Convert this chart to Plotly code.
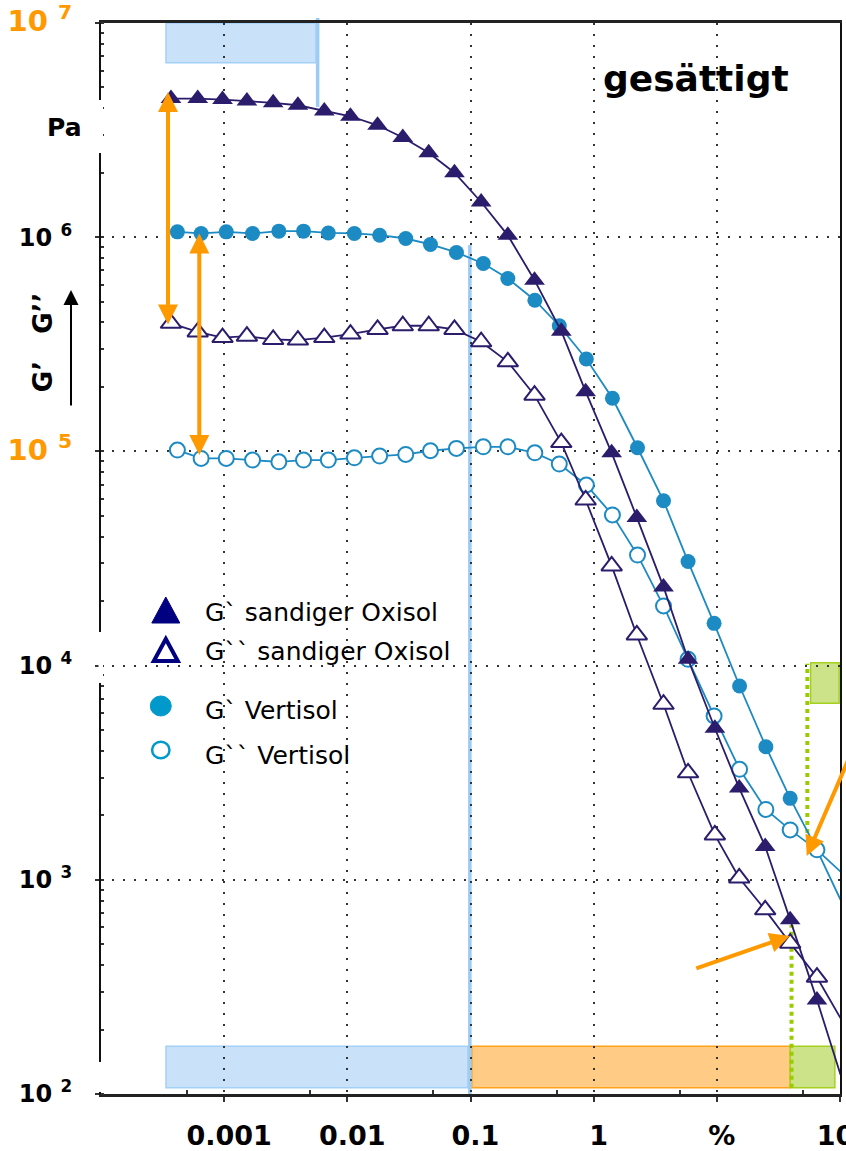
import plotly.graph_objects as go

# ---------------- data ----------------
x_oxisol = [3.7e-4, 6.1e-4, 9.7e-4, 1.53e-3, 2.5e-3, 3.97e-3, 6.5e-3, 1.06e-2, 1.76e-2,
            2.82e-2, 4.58e-2, 7.41e-2, 0.122, 0.201, 0.331, 0.546, 0.861, 1.40, 2.24,
            3.69, 5.84, 9.64, 15.2, 24.7, 39.4, 65.0, 101]
g1_oxisol = [4.44e6, 4.44e6, 4.39e6, 4.32e6, 4.24e6, 4.13e6, 3.88e6, 3.67e6, 3.33e6,
             2.92e6, 2.48e6, 2.00e6, 1.46e6, 1.02e6, 6.30e5, 3.64e5, 1.90e5, 9.85e4,
             4.92e4, 2.33e4, 1.07e4, 5.10e3, 2.68e3, 1.43e3, 650, 275, 123]
g2_oxisol = [3.96e5, 3.61e5, 3.40e5, 3.45e5, 3.33e5, 3.31e5, 3.40e5, 3.53e5, 3.71e5,
             3.86e5, 3.86e5, 3.71e5, 3.25e5, 2.62e5, 1.83e5, 1.10e5, 5.93e4, 2.92e4,
             1.39e4, 6.60e3, 3.16e3, 1.62e3, 1.02e3, 724, 506, 351, 226]

x_vertisol = [4.17e-4, 6.5e-4, 1.04e-3, 1.70e-3, 2.78e-3, 4.41e-3, 7.01e-3, 1.14e-2, 1.83e-2,
              2.98e-2, 4.73e-2, 7.69e-2, 0.127, 0.201, 0.333, 0.526, 0.872, 1.42, 2.27,
              3.69, 5.84, 9.5, 15.3, 25.0, 39.4, 65.0, 101]
g1_vertisol = [1.059e6, 1.041e6, 1.059e6, 1.041e6, 1.067e6, 1.067e6, 1.047e6, 1.041e6, 1.022e6,
               9.86e5, 9.25e5, 8.49e5, 7.54e5, 6.42e5, 5.08e5, 3.86e5, 2.70e5, 1.77e5,
               1.04e5, 5.88e4, 3.06e4, 1.575e4, 8.03e3, 4.18e3, 2.40e3, 1.38e3, 806]
g2_vertisol = [1.014e5, 9.27e4, 9.27e4, 9.11e4, 8.94e4, 9.11e4, 9.11e4, 9.33e4, 9.51e4,
               9.68e4, 1.007e5, 1.033e5, 1.05e5, 1.05e5, 9.85e4, 8.73e4, 6.97e4, 5.05e4,
               3.28e4, 1.90e4, 1.07e4, 5.82e3, 3.28e3, 2.13e3, 1.71e3, 1.38e3, 1.092e3]

series_names = ["G` sandiger Oxisol", "G`` sandiger Oxisol", "G` Vertisol", "G`` Vertisol"]

x_tickvals = [1e-3, 1e-2, 1e-1, 1, 10, 100]
x_ticktext = ["0.001", "0.01", "0.1", "1", "%", "100"]
x_minorvals = [5e-4, 5e-3, 5e-2, 0.5, 5, 50]
y_tickvals = [1e2, 1e3, 1e4, 1e5, 1e6, 1e7]
y_exponents = ["2", "3", "4", "5", "6", "7"]
y_highlight = ["7", "5"]

# ---------------- styling ----------------
NAVY = "#2B1C6C"
BLUE = "#1C8AC3"
ORANGE = "#FF9900"
FONT = "DejaVu Sans"

fig = go.Figure()

fig.add_trace(go.Scatter(x=x_vertisol, y=g1_vertisol, name=series_names[2], mode="lines+markers",
                         line=dict(color=BLUE, width=1.8),
                         marker=dict(symbol="circle", size=15, color=BLUE, line=dict(width=0)),
                         cliponaxis=False))
fig.add_trace(go.Scatter(x=x_vertisol, y=g2_vertisol, name=series_names[3], mode="lines+markers",
                         line=dict(color=BLUE, width=1.8),
                         marker=dict(symbol="circle", size=15, color="white", line=dict(color=BLUE, width=2)),
                         cliponaxis=False))
fig.add_trace(go.Scatter(x=x_oxisol, y=g2_oxisol, name=series_names[1], mode="lines+markers",
                         line=dict(color=NAVY, width=1.8),
                         marker=dict(symbol="triangle-up", size=18, color="white", line=dict(color=NAVY, width=2)),
                         cliponaxis=False))
fig.add_trace(go.Scatter(x=x_oxisol, y=g1_oxisol, name=series_names[0], mode="lines+markers",
                         line=dict(color=NAVY, width=1.8),
                         marker=dict(symbol="triangle-up", size=18, color=NAVY, line=dict(width=0)),
                         cliponaxis=False))

# y tick labels
y_ticktext = []
for e in y_exponents:
    if e in y_highlight:
        y_ticktext.append(f"<span style='color:{ORANGE};font-size:29px'>10 <sup>{e}</sup></span>")
    else:
        y_ticktext.append(f"10 <sup>{e}</sup>")

GRID = dict(showgrid=True, gridcolor="#333333", gridwidth=2, griddash="2px,9px")

fig.update_xaxes(type="log", range=[-4, 2], tickvals=x_tickvals, ticktext=x_ticktext,
                 tickfont=dict(family=FONT, size=27, color="black", weight="bold"),
                 ticks="outside", ticklen=5, tickwidth=1.5, tickcolor="#333",
                 ticklabelstandoff=11, ticklabelshift=5, ticklabeloverflow="allow",
                 automargin=False,
                 showline=True, linecolor="#222", linewidth=2.5, mirror=True,
                 minor=dict(tickvals=x_minorvals, ticks="inside", ticklen=4, tickcolor="#333", showgrid=False),
                 zeroline=False, **GRID)
fig.update_yaxes(type="log", range=[2, 7], tickvals=y_tickvals, ticktext=y_ticktext,
                 tickfont=dict(family=FONT, size=24, color="black", weight="bold"),
                 ticks="outside", ticklen=4, tickwidth=1.5, tickcolor="#333",
                 ticklabelstandoff=18, ticklabeloverflow="allow",
                 automargin=False,
                 showline=True, linecolor="#111", linewidth=2, mirror=True,
                 minor=dict(dtick="D1", ticks="inside", ticklen=3, tickcolor="#333", showgrid=False),
                 zeroline=False, **GRID)

# ---------------- shapes ----------------
LB_FILL, LB_LINE = "#C9E2FA", "#A3D0F7"
OR_FILL, OR_LINE = "#FFCB85", "#FFA31A"
GR_FILL, GR_LINE = "#CDE38A", "#A5D020"
GR_DOT = "#99CC00"

shapes = [
    # top blue box and its marker line
    dict(type="rect", xref="x", yref="y", x0=3.37e-4, x1=5.56e-3, y0=6.53e6, y1=1e7,
         fillcolor=LB_FILL, line=dict(color=LB_LINE, width=1.5), layer="below"),
    dict(type="line", xref="x", yref="paper", x0=5.74e-3, x1=5.74e-3, y0=0.9216, y1=1.0047,
         line=dict(color="#9CCBF5", width=3.5), layer="below"),
    # bottom boxes
    dict(type="rect", xref="x", yref="y", x0=3.37e-4, x1=0.0953, y0=107, y1=167,
         fillcolor=LB_FILL, line=dict(color=LB_LINE, width=1.5), layer="below"),
    dict(type="rect", xref="x", yref="y", x0=0.1025, x1=39.5, y0=107, y1=167,
         fillcolor=OR_FILL, line=dict(color=OR_LINE, width=1.5), layer="below"),
    dict(type="rect", xref="x", yref="y", x0=39.5, x1=90.8, y0=107, y1=167,
         fillcolor=GR_FILL, line=dict(color=GR_LINE, width=1.5), layer="below"),
    # vertical blue line at 0.1 %
    dict(type="line", xref="x", yref="y", x0=0.0988, x1=0.0988, y0=100, y1=9.2e5,
         line=dict(color="#9CCBF5", width=3.5), layer="below"),
    # upper green box
    dict(type="rect", xref="x", yref="y", x0=57.7, x1=98.4, y0=6.67e3, y1=1.03e4,
         fillcolor=GR_FILL, line=dict(color=GR_LINE, width=1.5), layer="below"),
    # green dotted lines
    dict(type="line", xref="x", yref="y", x0=40.4, x1=40.4, y0=107, y1=615,
         line=dict(color=GR_DOT, width=4, dash="4px,4px"), layer="below"),
    dict(type="line", xref="x", yref="y", x0=54.3, x1=54.3, y0=1654, y1=1.02e4,
         line=dict(color=GR_DOT, width=4, dash="4px,4px"), layer="below"),
]

# small white breaks in the left axis line (as in the reference)
for y0p, y1p in [(0.8786, 0.9281), (0.3838, 0.4314), (0.0019, 0.0299)]:
    shapes.append(dict(type="rect", xref="paper", yref="paper", xsizemode="pixel",
                       xanchor=0, x0=-2.5, x1=2.0, y0=y0p, y1=y1p,
                       fillcolor="white", line=dict(width=0), layer="above"))

# legend glyphs (pixel-sized shapes anchored in paper coords)
LEG_NAVY = "#000080"
LEG_BLUE = "#0099CC"
shapes += [
    dict(type="path", xref="paper", yref="paper", xsizemode="pixel", ysizemode="pixel",
         xanchor=0.0877, yanchor=0.4519, path="M -14,-13 L 14,-13 L 0,13 Z",
         fillcolor=LEG_NAVY, line=dict(color=LEG_NAVY, width=1), layer="above"),
    dict(type="path", xref="paper", yref="paper", xsizemode="pixel", ysizemode="pixel",
         xanchor=0.0877, yanchor=0.4146, path="M -12,-11 L 12,-11 L 0,11 Z",
         fillcolor="white", line=dict(color=LEG_NAVY, width=4), layer="above"),
    dict(type="circle", xref="paper", yref="paper", xsizemode="pixel", ysizemode="pixel",
         xanchor=0.0809, yanchor=0.3623, x0=-10.5, x1=10.5, y0=-10, y1=10,
         fillcolor=LEG_BLUE, line=dict(color=LEG_BLUE, width=1), layer="above"),
    dict(type="circle", xref="paper", yref="paper", xsizemode="pixel", ysizemode="pixel",
         xanchor=0.0809, yanchor=0.3212, x0=-8.7, x1=8.7, y0=-8.3, y1=8.3,
         fillcolor="white", line=dict(color=LEG_BLUE, width=2.5), layer="above"),
]
fig.update_layout(shapes=shapes)

# ---------------- annotations ----------------
ann = []
# legend text
for name, yp in zip(series_names, [0.4494, 0.4130, 0.3585, 0.3165]):
    ann.append(dict(text=name, xref="paper", yref="paper", x=0.1376, y=yp, xanchor="left",
                    yanchor="middle", showarrow=False, font=dict(family=FONT, size=25, color="black")))
# title text
ann.append(dict(text="<b>gesättigt</b>", xref="paper", yref="paper", x=0.805, y=0.9486,
                xanchor="center", yanchor="middle", showarrow=False,
                font=dict(family=FONT, size=36, color="black")))
# unit
ann.append(dict(text="<b>Pa</b>", xref="paper", yref="paper", x=-0.050, y=0.902,
                xanchor="center", yanchor="middle", showarrow=False,
                font=dict(family=FONT, size=25, color="black")))
# axis quantity (rotated)
ann.append(dict(text="<b>G’   G’’</b>", xref="paper", yref="paper", x=-0.0785, y=0.702,
                xanchor="center", yanchor="middle", textangle=-90, showarrow=False,
                font=dict(family=FONT, size=26, color="black")))
ann.append(dict(text="", xref="paper", yref="paper", x=-0.0406, y=0.7507, ax=0, ay=117,
                showarrow=True, arrowhead=2, arrowsize=1.5, arrowwidth=2, arrowcolor="black",
                standoff=0))
# orange arrows (log10 coordinates on log axes)
arrow_common = dict(text="", xref="x", yref="y", axref="x", ayref="y", showarrow=True,
                    arrowhead=2, arrowsize=1.0, arrowwidth=4, arrowcolor=ORANGE, standoff=0,
                    startstandoff=0)
ann.append(dict(x=-3.456, y=6.678, ax=-3.456, ay=5.585, arrowside="end+start", startarrowhead=2,
                startarrowsize=1.0, **arrow_common))
ann.append(dict(x=-3.202, y=6.017, ax=-3.202, ay=4.976, arrowside="end+start", startarrowhead=2,
                startarrowsize=1.0, **arrow_common))
ann.append(dict(x=1.5925, y=2.738, ax=0.821, ay=2.584, **arrow_common))
ann.append(dict(x=1.730, y=3.111, ax=2.242, ay=3.793, **arrow_common))

fig.update_layout(annotations=ann)

fig.update_layout(width=846, height=1151, margin=dict(l=101, r=6, t=23, b=57, pad=0, autoexpand=False),
                  showlegend=False, plot_bgcolor="white", paper_bgcolor="white",
                  font=dict(family=FONT))

fig.write_html("out.html")
